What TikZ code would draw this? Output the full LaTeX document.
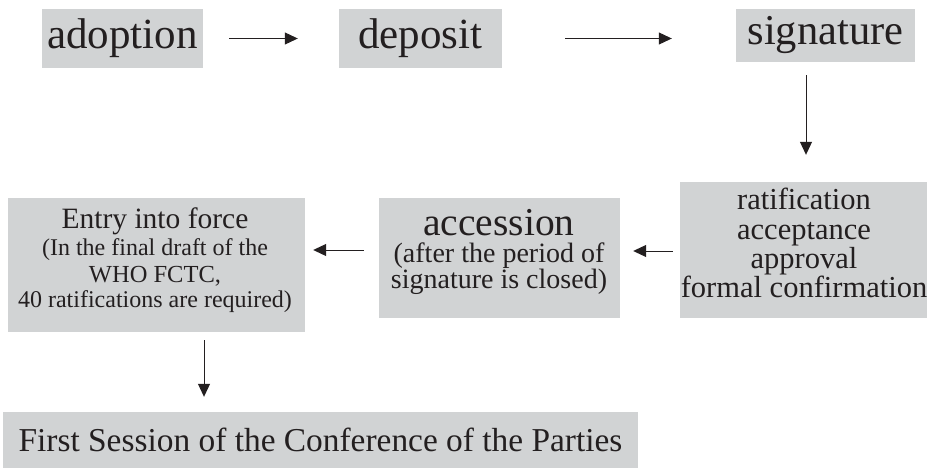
\documentclass[tikz,border=0pt]{standalone}
\usepackage{fontspec}
\setmainfont{Liberation Serif}
\usetikzlibrary{arrows.meta}
\definecolor{boxgray}{HTML}{D1D3D4}
\definecolor{ink}{HTML}{231F20}
\tikzset{
  box/.style={fill=boxgray, draw=none, inner sep=0pt, align=center, text=ink},
  txt/.style={anchor=base, inner sep=0pt, text=ink},
  flow/.style={draw=ink, line width=1pt, -{Triangle[length=13pt,width=12pt]}},
}
\newcommand{\fs}[2]{\fontsize{#1}{#2}\selectfont}
\begin{document}
\begin{tikzpicture}[x=1pt,y=-1pt]
\useasboundingbox (0,0) rectangle (927,468);
% top row
\node[box, minimum width=161pt, minimum height=59pt, font=\fs{43}{44}] (adoption) at (122.5,38.5) {adoption};
\node[box, minimum width=163pt, minimum height=59pt, font=\fs{43}{44}] (deposit) at (420.5,38.5) {deposit};
\node[box, minimum width=179pt, minimum height=53pt, font=\fs{42.5}{44}] (signature) at (825.5,35.5) {signature};
% ratification box
\node[box, minimum width=247pt, minimum height=136pt] (ratif) at (803.5,250) {};
\begin{scope}[every node/.append style={font=\fs{30.5}{30}}]
\node[txt] (r1) at (804,210) {ratification};
\node[txt] (r2) at (804,239.5) {acceptance};
\node[txt] (r3) at (804,268.5) {approval};
\node[txt] (r4) at (804,297.5) {formal confirmation};
\end{scope}
% accession box
\node[box, minimum width=241pt, minimum height=120pt] (access) at (499.5,258) {};
\node[txt, font=\fs{39.5}{40}] (a1) at (499,235) {accession};
\node[txt, font=\fs{28}{28}] (a2) at (499,262) {(after the period of};
\node[txt, font=\fs{28}{28}] (a3) at (499,288) {signature is closed)};
% entry box
\node[box, minimum width=297pt, minimum height=134pt] (entry) at (156.5,265) {};
\node[txt, font=\fs{29.5}{30}] (e1) at (155,228) {Entry into force};
\node[txt, font=\fs{24}{26}] (e2) at (155,255) {(In the final draft of the};
\node[txt, font=\fs{24.5}{26}] (e3) at (155,282) {WHO FCTC,};
\node[txt, font=\fs{24}{26}] (e4) at (155,307) {40 ratifications are required)};
% bottom box
\node[box, minimum width=635pt, minimum height=56pt, font=\fs{33.4}{34}] (first) at (320.5,440) {First Session of the Conference of the Parties};

\draw[flow, shorten <=26pt, shorten >=41pt] (adoption.east) -- (deposit.west);
\draw[flow, shorten <=63pt, shorten >=64pt] (deposit.east) -- (deposit.east -| signature.west);
\draw[flow, shorten <=13pt, shorten >=27pt] ([xshift=2.5pt]ratif.north |- signature.south) -- ([xshift=2.5pt]ratif.north);
\draw[flow, shorten <=7pt, shorten >=13pt] ([yshift=-1pt]ratif.west) -- ([yshift=-1pt]ratif.west -| access.east);
\draw[flow, shorten <=15pt, shorten >=8pt] (access.west |- ratif.west) -- (entry.east |- ratif.west);
\draw[flow, shorten <=8pt, shorten >=15pt] ([xshift=47.5pt]entry.south) -- ([xshift=47.5pt]entry.south |- first.north);
\end{tikzpicture}
\end{document}
